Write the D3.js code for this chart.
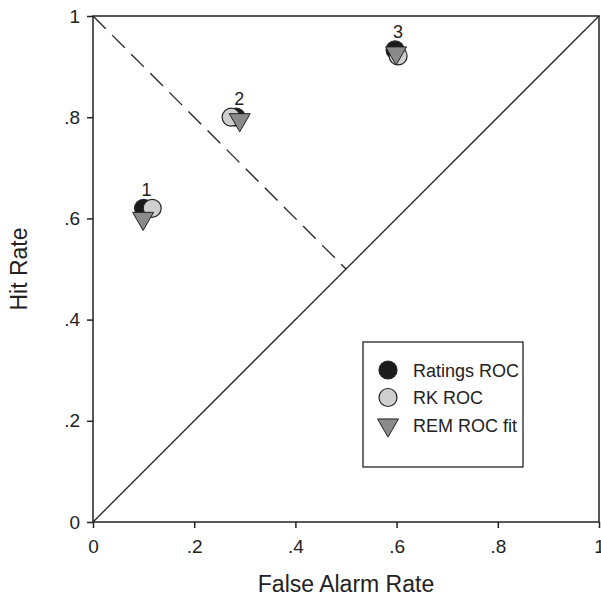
<!DOCTYPE html>
<html>
<meta charset="UTF-8">
<script src="https://d3js.org/d3.v7.min.js"></script>
<style>
  body { margin: 0; background: #fff; }
  text { font-family: "Liberation Sans", Arial, sans-serif; fill: #222; }
</style>
<body>
<div id="chart"></div>
<script>
// data
var conditions = ["1", "2", "3"];
var ratingsFA = [0.10, 0.283, 0.597];
var ratingsHit = [0.62, 0.80, 0.933];
var rkFA = [0.117, 0.273, 0.603];
var rkHit = [0.62, 0.80, 0.921];
var remFA = [0.099, 0.29, 0.599];
var remHit = [0.60, 0.795, 0.927];
var tickValues = [0, 0.2, 0.4, 0.6, 0.8, 1];
var tickLabels = ["0", ".2", ".4", ".6", ".8", "1"];
var legendLabels = ["Ratings ROC", "RK ROC", "REM ROC fit"];

var margin = { top: 16, right: 2, bottom: 76, left: 93 },
  width = 601 - margin.left - margin.right,
  height = 598 - margin.top - margin.bottom;

var svg = d3.select("#chart")
  .append("svg")
  .attr("width", 601)
  .attr("height", 598)
  .append("g")
  .attr("transform", "translate(" + margin.left + "," + margin.top + ")");

var x = d3.scaleLinear().domain([0, 1]).range([0, width]);
var y = d3.scaleLinear().domain([0, 1]).range([height, 0]);

function fmt(d) { return tickLabels[tickValues.indexOf(d)]; }

// axes
var xAxis = svg.append("g")
  .attr("transform", "translate(0," + height + ")")
  .call(d3.axisBottom(x).tickValues(tickValues).tickFormat(fmt).tickSize(6).tickPadding(12));
var yAxis = svg.append("g")
  .call(d3.axisLeft(y).tickValues(tickValues).tickFormat(fmt).tickSize(6).tickPadding(7));
[xAxis, yAxis].forEach(function (a) {
  a.select(".domain").remove();
  a.selectAll("line").attr("stroke", "#222").attr("stroke-width", 1.5);
  a.selectAll("text").style("font-size", "19px").attr("fill", "#222");
});

// frame
svg.append("rect")
  .attr("x", 0).attr("y", 0)
  .attr("width", width).attr("height", height)
  .attr("fill", "none")
  .attr("stroke", "#222")
  .attr("stroke-width", 1.5);

// chance diagonal
svg.append("line")
  .attr("x1", x(0)).attr("y1", y(0))
  .attr("x2", x(1)).attr("y2", y(1))
  .attr("stroke", "#222").attr("stroke-width", 1.3);

// negative diagonal dashed
svg.append("line")
  .attr("x1", x(0)).attr("y1", y(1))
  .attr("x2", x(0.5)).attr("y2", y(0.5))
  .attr("stroke", "#222").attr("stroke-width", 1.3)
  .attr("stroke-dasharray", "18,9");

var tri = d3.symbol().type(d3.symbolTriangle).size(190);

function drawCircles(fa, hit, fill) {
  svg.selectAll(null)
    .data(fa)
    .enter().append("circle")
    .attr("cx", function (d) { return x(d); })
    .attr("cy", function (d, i) { return y(hit[i]); })
    .attr("r", 9)
    .attr("fill", fill)
    .attr("stroke", "#222")
    .attr("stroke-width", 1.2);
}

drawCircles(ratingsFA, ratingsHit, "#1b1b1b");
drawCircles(rkFA, rkHit, "#cfcfcf");

svg.selectAll(null)
  .data(remFA)
  .enter().append("path")
  .attr("d", tri)
  .attr("transform", function (d, i) {
    return "translate(" + x(d) + "," + y(remHit[i]) + ") rotate(180)";
  })
  .attr("fill", "#8a8a8a")
  .attr("stroke", "#222")
  .attr("stroke-width", 1);

// condition labels
svg.selectAll(null)
  .data(conditions)
  .enter().append("text")
  .attr("x", function (d, i) { return x(ratingsFA[i]) + 3; })
  .attr("y", function (d, i) { return y(Math.max(ratingsHit[i], rkHit[i])) - 12; })
  .attr("text-anchor", "middle")
  .style("font-size", "18px")
  .text(function (d) { return d; });

// legend
var legend = svg.append("g").attr("transform", "translate(270,326)");
legend.append("rect")
  .attr("width", 160).attr("height", 125)
  .attr("fill", "#fff")
  .attr("stroke", "#222")
  .attr("stroke-width", 1.3);
var fills = ["#1b1b1b", "#cfcfcf", "#8a8a8a"];
legendLabels.forEach(function (lab, i) {
  var yy = 28 + i * 27.5;
  if (i < 2) {
    legend.append("circle")
      .attr("cx", 25).attr("cy", yy).attr("r", 9)
      .attr("fill", fills[i]).attr("stroke", "#222").attr("stroke-width", 1.2);
  } else {
    legend.append("path")
      .attr("d", tri)
      .attr("transform", "translate(25," + yy + ") rotate(180)")
      .attr("fill", fills[i]).attr("stroke", "#222").attr("stroke-width", 1);
  }
  legend.append("text")
    .attr("x", 50).attr("y", yy + 6.5)
    .style("font-size", "18px")
    .text(lab);
});

// axis titles
svg.append("text")
  .attr("x", width / 2).attr("y", height + 70)
  .attr("text-anchor", "middle")
  .style("font-size", "23px")
  .text("False Alarm Rate");
svg.append("text")
  .attr("transform", "translate(-66," + (height / 2) + ") rotate(-90)")
  .attr("text-anchor", "middle")
  .style("font-size", "23px")
  .text("Hit Rate");
</script>
</body>
</html>
